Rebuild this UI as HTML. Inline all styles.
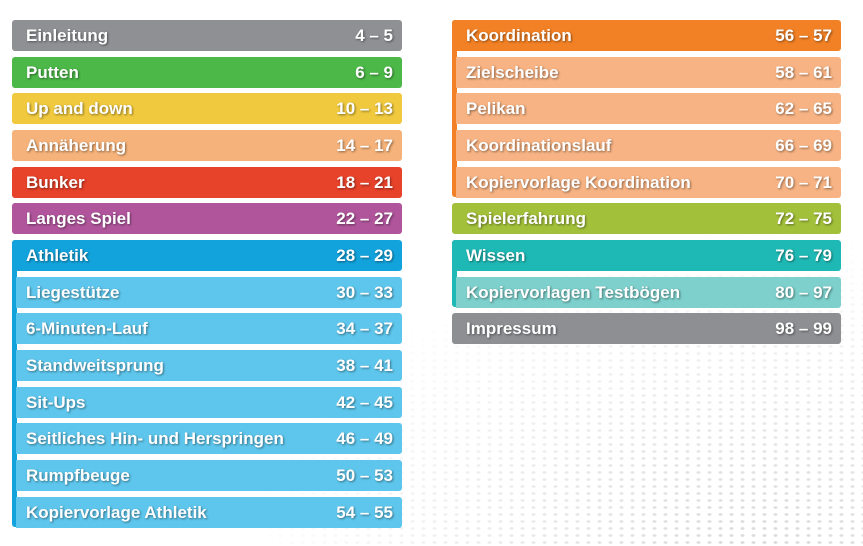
<!DOCTYPE html>
<html><head><meta charset="utf-8"><style>
html,body{margin:0;padding:0}
body{width:863px;height:546px;position:relative;overflow:hidden;background:#fff;font-family:"Liberation Sans",sans-serif}
.bg{position:absolute;left:0;top:0;width:863px;height:546px;
background-image:radial-gradient(ellipse 3px 2px at center,#d4d4d6 60%,transparent 75%);
background-size:11px 7px;
-webkit-mask-image:radial-gradient(ellipse 520px 330px at 760px 560px,rgba(0,0,0,.9),rgba(0,0,0,0) 100%);
mask-image:radial-gradient(ellipse 520px 330px at 760px 560px,rgba(0,0,0,.9),rgba(0,0,0,0) 100%);}
.r{position:absolute;height:31px;border-radius:3px;color:#fff;font-weight:bold;font-size:17px;line-height:31px;text-shadow:1px 1px 2px rgba(0,0,0,.45);box-sizing:border-box;padding:0 9px 0 14px}
.r span{float:right}
.s{position:absolute;width:5px;border-radius:3px 0 0 3px}
</style></head><body>
<div class="bg"></div>
<div class="r" style="left:12px;top:20px;width:390px;background:#8f9094">Einleitung<span>4 – 5</span></div>
<div class="r" style="left:12px;top:57px;width:390px;background:#4cb848">Putten<span>6 – 9</span></div>
<div class="r" style="left:12px;top:93px;width:390px;background:#f0c93e">Up and down<span>10 – 13</span></div>
<div class="r" style="left:12px;top:130px;width:390px;background:#f5b27a">Annäherung<span>14 – 17</span></div>
<div class="r" style="left:12px;top:167px;width:390px;background:#e7422a">Bunker<span>18 – 21</span></div>
<div class="r" style="left:12px;top:203px;width:390px;background:#b0559c">Langes Spiel<span>22 – 27</span></div>
<div class="s" style="left:12px;top:240px;height:287px;background:#12a3dc"></div>
<div class="r" style="left:12px;top:240px;width:390px;background:#12a3dc">Athletik<span>28 – 29</span></div>
<div class="r" style="left:16px;top:277px;width:386px;background:#5ec6ec;padding-left:10px;border-radius:0 3px 3px 0">Liegestütze<span>30 – 33</span></div>
<div class="r" style="left:16px;top:313px;width:386px;background:#5ec6ec;padding-left:10px;border-radius:0 3px 3px 0">6-Minuten-Lauf<span>34 – 37</span></div>
<div class="r" style="left:16px;top:350px;width:386px;background:#5ec6ec;padding-left:10px;border-radius:0 3px 3px 0">Standweitsprung<span>38 – 41</span></div>
<div class="r" style="left:16px;top:387px;width:386px;background:#5ec6ec;padding-left:10px;border-radius:0 3px 3px 0">Sit-Ups<span>42 – 45</span></div>
<div class="r" style="left:16px;top:423px;width:386px;background:#5ec6ec;padding-left:10px;border-radius:0 3px 3px 0">Seitliches Hin- und Herspringen<span>46 – 49</span></div>
<div class="r" style="left:16px;top:460px;width:386px;background:#5ec6ec;padding-left:10px;border-radius:0 3px 3px 0">Rumpfbeuge<span>50 – 53</span></div>
<div class="r" style="left:16px;top:497px;width:386px;background:#5ec6ec;padding-left:10px;border-radius:0 3px 3px 0">Kopiervorlage Athletik<span>54 – 55</span></div>

<div class="s" style="left:452px;top:20px;height:177px;background:#f28125"></div>
<div class="r" style="left:452px;top:20px;width:389px;background:#f28125">Koordination<span>56 – 57</span></div>
<div class="r" style="left:456px;top:57px;width:385px;background:#f7b383;padding-left:10px;border-radius:0 3px 3px 0">Zielscheibe<span>58 – 61</span></div>
<div class="r" style="left:456px;top:93px;width:385px;background:#f7b383;padding-left:10px;border-radius:0 3px 3px 0">Pelikan<span>62 – 65</span></div>
<div class="r" style="left:456px;top:130px;width:385px;background:#f7b383;padding-left:10px;border-radius:0 3px 3px 0">Koordinationslauf<span>66 – 69</span></div>
<div class="r" style="left:456px;top:167px;width:385px;background:#f7b383;padding-left:10px;border-radius:0 3px 3px 0">Kopiervorlage Koordination<span>70 – 71</span></div>
<div class="r" style="left:452px;top:203px;width:389px;background:#a3c03a">Spielerfahrung<span>72 – 75</span></div>
<div class="s" style="left:452px;top:240px;height:67px;background:#1fb9b5"></div>
<div class="r" style="left:452px;top:240px;width:389px;background:#1fb9b5">Wissen<span>76 – 79</span></div>
<div class="r" style="left:456px;top:277px;width:385px;background:#7dd0cc;padding-left:10px;border-radius:0 3px 3px 0">Kopiervorlagen Testbögen<span>80 – 97</span></div>
<div class="r" style="left:452px;top:313px;width:389px;background:#8e8f93">Impressum<span>98 – 99</span></div>
</body></html>
